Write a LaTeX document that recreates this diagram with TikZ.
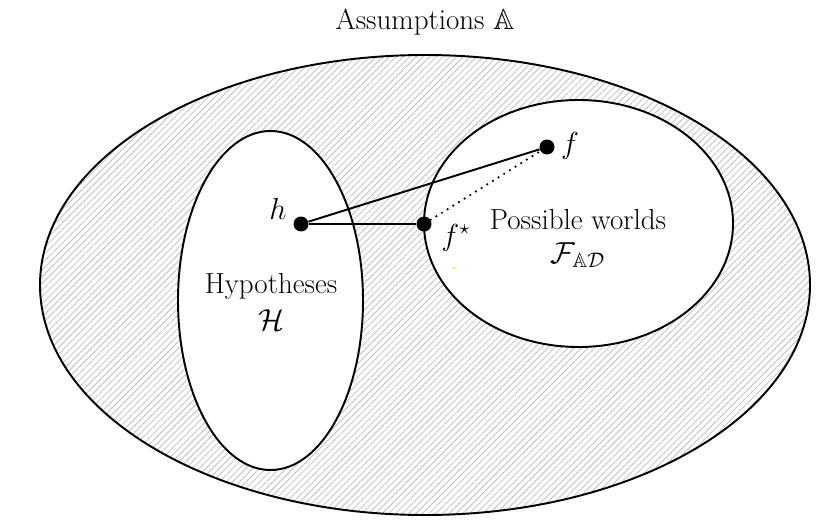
\documentclass[tikz,border=0pt]{standalone}
\usepackage{amssymb}
\usetikzlibrary{patterns.meta}

\tikzset{
  blob/.style={line width=1.1pt},
  dot/.style={circle,inner sep=0,minimum size=0.3cm,fill=black},
  link/.style={line width=1.1pt}
}

\begin{document}
\begin{tikzpicture}[x=0.02cm,y=-0.02cm,font=\fontsize{16.5}{20}\selectfont]
  \useasboundingbox (0,0) rectangle (830,520);

  % the three sets
  \draw[blob, pattern={Lines[angle=45,distance=2.7pt,line width=0.45pt]}, pattern color=black!25]
    (425,285) ellipse [x radius=385, y radius=230];
  \draw[blob, fill=white] (270.5,300.5) ellipse [x radius=92.5, y radius=169.5];
  \draw[blob, fill=white] (578.5,223.5) ellipse [x radius=154.5, y radius=123.5];

  \node (title) at (425,22) {Assumptions $\mathbb{A}$};
  \node (hyp) at (271,286) {Hypotheses};
  \node (hypset) at (271,320) {$\mathcal{H}$};
  \node (worlds) at (578,220) {Possible worlds};
  \node (worldset) at (578,255) {$\mathcal{F}_{\mathbb{A}\mathcal{D}}$};

  \node[dot] (h) at (301,224) {};
  \node[dot] (fstar) at (424,224) {};
  \node[dot] (f) at (547,147) {};

  \draw[link] (h) -- (fstar);
  \draw[link] (h) -- (f);
  \draw[line width=1.4pt, line cap=round, dash pattern=on 0pt off 3.8pt] (fstar) -- (f);

  \node (hlabel) at (278,209) {$h$};
  \node (flabel) at (570,146) {$f$};
  \node (fstarlabel) at (456,238) {$f^\star$};

  \fill[yellow] (454,268) circle (1.3);
\end{tikzpicture}
\end{document}
